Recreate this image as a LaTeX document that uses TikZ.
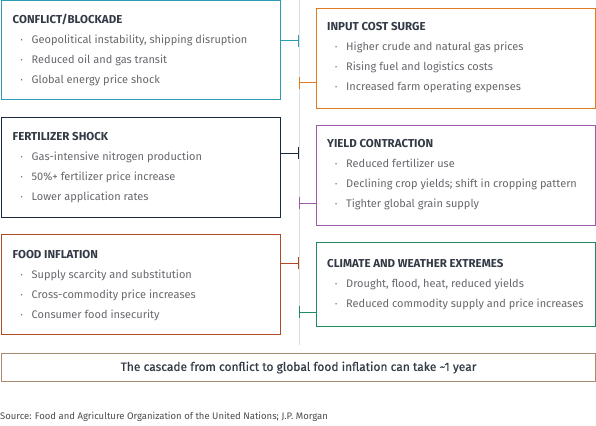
\documentclass[tikz,border=0pt]{standalone}
\usepackage{fontspec}
\setmainfont{Fira Sans}
\newfontfamily\notefont[FakeBold=0.6]{Fira Sans}
\usetikzlibrary{arrows.meta,positioning,calc}
\definecolor{jpteal}{HTML}{2C9CB5}
\definecolor{jporange}{HTML}{E07B24}
\definecolor{jpnavy}{HTML}{1B2A40}
\definecolor{jppurple}{HTML}{9A5BA8}
\definecolor{jprust}{HTML}{B04A24}
\definecolor{jpgreen}{HTML}{1E8A5E}
\definecolor{jptan}{HTML}{A88B70}
\definecolor{headgray}{HTML}{333A45}
\definecolor{txtgray}{HTML}{66676C}
\newcommand{\hd}[1]{\rule{0pt}{8.5pt}{\fontsize{11.5}{20}\selectfont\bfseries\color{headgray}#1}}
\newcommand{\itm}{\hspace*{8pt}\makebox[11pt][l]{\raisebox{1pt}{\scalebox{0.6}{•}}}}
\begin{document}
\begin{tikzpicture}[x=1pt,y=-1pt,
  card/.style={draw,line width=1pt,minimum width=279pt,inner sep=0pt,anchor=north west},
  cardtext/.style={anchor=north west,align=left,inner sep=0pt,
    font=\fontsize{11}{20}\selectfont,text=txtgray},
  link/.style={line width=1pt,-{Bar[width=12pt,line width=1pt]}}]
\useasboundingbox (0,0) rectangle (596,425);
% spine
\draw[line width=1pt,color=black!13] (299,0) -- (299,345);
% left column
\node[card,jpteal,minimum height=99pt] (conflict) at (0.5,0.5) {};
\node[card,jpnavy,minimum height=100pt] (fert) at (0.5,117) {};
\node[card,jprust,minimum height=100pt] (food) at (0.5,234) {};
% right column
\node[card,jporange,minimum height=100pt] (input) at (316,8) {};
\node[card,jppurple,minimum height=100pt] (yield) at (316,125) {};
\node[card,jpgreen,minimum height=84pt] (climate) at (316,242) {};
% texts
\node[cardtext] (conflict-txt) at ($(conflict.north west)+(12,13)$) {\hd{CONFLICT/BLOCKADE}\\
  \itm Geopolitical instability, shipping disruption\\
  \itm Reduced oil and gas transit\\
  \itm Global energy price shock};
\node[cardtext] (fert-txt) at ($(fert.north west)+(12,15)$) {\hd{FERTILIZER SHOCK}\\
  \itm Gas-intensive nitrogen production\\
  \itm 50\%+ fertilizer price increase\\
  \itm Lower application rates};
\node[cardtext] (food-txt) at ($(food.north west)+(12,16)$) {\hd{FOOD INFLATION}\\
  \itm Supply scarcity and substitution\\
  \itm Cross-commodity price increases\\
  \itm Consumer food insecurity};
\node[cardtext] (input-txt) at ($(input.north west)+(11,14)$) {\hd{INPUT COST SURGE}\\
  \itm Higher crude and natural gas prices\\
  \itm Rising fuel and logistics costs\\
  \itm Increased farm operating expenses};
\node[cardtext] (yield-txt) at ($(yield.north west)+(11,14)$) {\hd{YIELD CONTRACTION}\\
  \itm Reduced fertilizer use\\
  \itm Declining crop yields; shift in cropping pattern\\
  \itm Tighter global grain supply};
\node[cardtext] (climate-txt) at ($(climate.north west)+(11,17)$) {\hd{CLIMATE AND WEATHER EXTREMES}\\
  \itm Drought, flood, heat, reduced yields\\
  \itm Reduced commodity supply and price increases};
% links to spine
\coordinate (s1) at (299,41);
\coordinate (s2) at (299,83);
\coordinate (s3) at (299,153);
\coordinate (s4) at (299,203);
\coordinate (s5) at (299,263);
\coordinate (s6) at (299,312);
\draw[link,jpteal] (conflict.east |- s1) -- (s1);
\draw[link,jporange] (input.west |- s2) -- (s2);
\draw[link,jpnavy] (fert.east |- s3) -- (s3);
\draw[link,jppurple] (yield.west |- s4) -- (s4);
\draw[link,jprust] (food.east |- s5) -- (s5);
\draw[link,jpgreen] (climate.west |- s6) -- (s6);
% bottom note
\node[draw=jptan,line width=1pt,minimum width=594pt,minimum height=28pt,inner sep=0pt,
  anchor=north west,font=\notefont\fontsize{12}{14}\selectfont,text=headgray] (note) at (1,353)
  {The cascade from conflict to global food inflation can take \textasciitilde1 year};
\node[anchor=west,inner sep=0pt,font=\fontsize{9.5}{11}\selectfont,text=black!70] (source) at (0,417)
  {Source: Food and Agriculture Organization of the United Nations; J.P. Morgan};
\end{tikzpicture}
\end{document}
